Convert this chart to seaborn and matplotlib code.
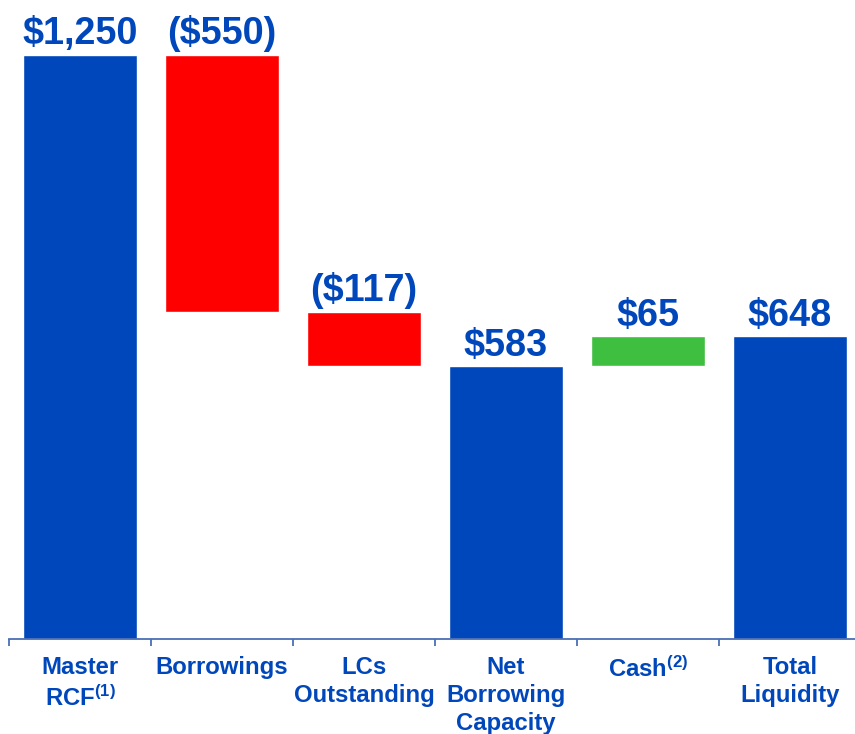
import numpy as np
import pandas as pd
import matplotlib
matplotlib.use("Agg")
import matplotlib.pyplot as plt
import seaborn as sns

sns.set_style("white")
plt.rcParams['font.family'] = ['Liberation Sans', 'DejaVu Sans']
plt.rcParams['font.weight'] = 'bold'
plt.rcParams['mathtext.fontset'] = 'custom'
plt.rcParams['mathtext.rm'] = 'Liberation Sans:bold'
plt.rcParams['mathtext.it'] = 'Liberation Sans:bold'
plt.rcParams['mathtext.bf'] = 'Liberation Sans:bold'

# data
categories = ["Master\nRCF$^{(1)}$", "Borrowings", "LCs\nOutstanding",
              "Net\nBorrowing\nCapacity", "Cash$^{(2)}$", "Total\nLiquidity"]
values = [1250, -550, -117, 583, 65, 648]
kinds = ["total", "delta", "delta", "total", "delta", "total"]

blue = "#0047BB"
red = "#FF0000"
green = "#3FBF3F"
axis_col = "#4A6FB5"

# waterfall bases
bottoms = []
heights = []
running = 0
for v, k in zip(values, kinds):
    if k == "total":
        bottoms.append(0)
        heights.append(v)
        running = v
    else:
        if v < 0:
            bottoms.append(running + v)
            heights.append(-v)
        else:
            bottoms.append(running)
            heights.append(v)
        running += v
colors = [blue if k == "total" else (red if v < 0 else green) for v, k in zip(values, kinds)]

df = pd.DataFrame({"cat": categories, "height": heights, "bottom": bottoms, "color": colors})

W, H = 855, 734
fig = plt.figure(figsize=(W / 100, H / 100), dpi=100)
ymax = 1350
px_per_unit = 0.4675
ax = fig.add_axes([9 / W, 95 / H, 852 / W, ymax * px_per_unit / H])

for i, row in df.iterrows():
    sns.barplot(x=[row["cat"]], y=[row["height"]], bottom=row["bottom"], color=row["color"],
                order=categories, width=0.8, saturation=1, ax=ax, errorbar=None)

for i, v in enumerate(values):
    top = bottoms[i] + heights[i]
    lab = f"(${abs(v):,})" if v < 0 else f"${v:,}"
    ax.annotate(lab, (i, top), xytext=(0, 7.5), textcoords="offset points",
                ha="center", va="baseline", fontsize=27.2, fontweight="bold", color=blue)

ax.set_xlim(-0.5, 5.5)
ax.set_ylim(0, ymax)
ax.set_yticks([])
ax.set_xlabel("")
ax.set_ylabel("")
for s in ["top", "left", "right"]:
    ax.spines[s].set_visible(False)
ax.spines["bottom"].set_color(axis_col)
ax.spines["bottom"].set_linewidth(1.3)

ax.set_xticks(range(len(categories)))
ax.set_xticklabels(categories, fontsize=17.2, fontweight="bold", color=blue, linespacing=1.27)
ax.set_xticks(np.arange(-0.5, 6, 1), minor=True)
ax.tick_params(axis="x", which="major", length=0, pad=12.5)
ax.tick_params(axis="x", which="minor", length=5, width=1.3, color=axis_col, direction="out", bottom=True)

fig.savefig("out.png", dpi=100)
